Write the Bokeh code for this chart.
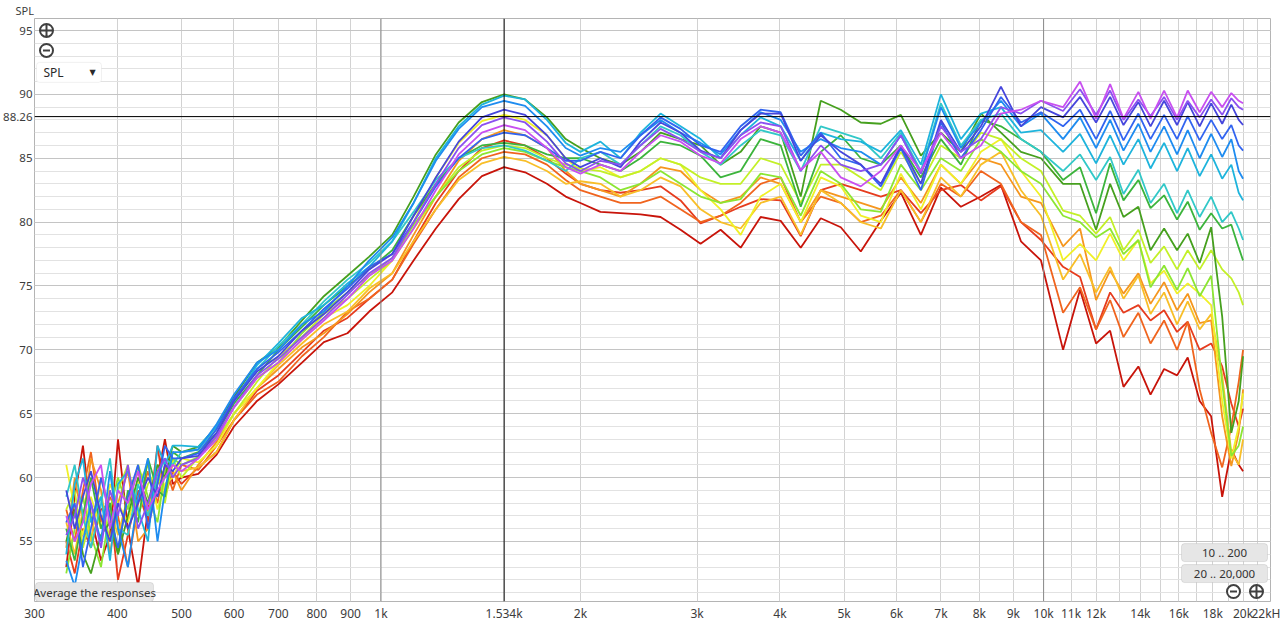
from bokeh.plotting import figure
from bokeh.models import FixedTicker, Span, Label, BoxAnnotation, Range1d
from bokeh.embed import file_html
from bokeh.resources import INLINE

# ---------------- data ----------------
freq_hz = [
    335, 345, 355, 365, 378, 390, 401, 415, 430, 445, 460, 472, 485, 500,
    530, 565, 600, 650, 700, 760, 820, 890, 960,
    1040, 1120, 1210, 1310, 1420, 1534, 1650, 1780, 1900,
    2000, 2144, 2299, 2464, 2642, 2832, 3036, 3255, 3490, 3741, 4011, 4300,
    4610, 4942, 5298, 5680, 6089, 6528, 6998, 7502, 8043, 8622, 9243, 9909,
    10700, 11350, 12000, 12600, 13200, 13900, 14500, 15200, 15900, 16500,
    17200, 17900, 18600, 19200, 19700, 20000,
]

spl_dark_red = [
    53.0, 58.5, 62.5, 57.0, 53.5, 55.5, 63.0, 56.0, 51.5, 57.5, 60.0, 63.0, 59.5, 60.0,
    60.3, 61.8, 64.0, 66.0, 67.3, 69.0, 70.6, 71.3, 73.0,
    74.5, 77.0, 79.5, 81.8, 83.6, 84.3, 83.9, 83.0, 82.0,
    81.5, 80.8, 80.7, 80.6, 80.4, 79.4, 78.3, 79.4, 78.0, 80.4, 80.1, 78.0,
    80.3, 79.6, 77.7, 80.1, 82.3, 79.0, 82.7, 81.2, 82.0, 82.9, 78.5, 77.0,
    70.0, 74.7, 70.5, 71.5, 67.1, 68.7, 66.5, 68.5, 68.0, 69.4, 66.0, 64.8, 58.5, 62.2, 61.0, 60.5,
]
spl_red = [
    55.0, 52.5, 56.0, 54.5, 57.5, 58.0, 52.0, 55.5, 59.0, 56.5, 62.5, 58.5, 60.5, 59.5,
    60.8, 62.0, 64.5, 66.8, 68.0, 69.8, 71.5, 72.5, 74.0,
    75.5, 78.5, 81.5, 84.0, 85.8, 86.4, 86.0, 85.0, 83.8,
    83.0, 82.5, 82.3, 82.5, 82.8, 81.7, 79.9, 80.5, 81.2, 81.8, 81.7, 78.9,
    82.5, 83.0, 82.5, 82.0, 82.5, 80.7, 82.5, 82.9, 81.7, 82.8, 80.0, 78.6,
    76.5, 75.7, 71.6, 74.5, 72.9, 73.5, 72.3, 73.1, 71.4, 72.2, 70.0, 70.5, 68.7, 65.8, 64.0, 65.4,
]
spl_orange_red = [
    57.5, 55.0, 59.0, 62.0, 56.5, 58.5, 57.0, 53.0, 58.0, 60.5, 58.0, 61.0, 59.0, 61.0,
    60.6, 62.5, 64.5, 66.5, 67.5, 69.5, 71.0, 73.0, 74.0,
    75.5, 78.3, 81.0, 83.5, 85.0, 85.5, 85.3, 84.5, 83.3,
    82.5, 82.0, 81.5, 81.5, 82.0, 81.0, 80.0, 80.5, 81.5, 83.0, 83.5, 80.0,
    82.0, 81.5, 80.0, 80.5, 82.5, 80.0, 83.0, 82.0, 84.0, 83.0, 80.0, 79.0,
    72.9, 74.9, 71.6, 73.9, 71.0, 72.9, 70.5, 72.3, 70.0, 72.2, 66.9, 63.5, 60.8, 64.0, 67.5, 70.0,
]
spl_orange = [
    54.5, 60.0, 56.5, 61.5, 59.0, 54.0, 58.0, 60.5, 55.0, 56.0, 59.5, 60.0, 60.5, 59.0,
    61.0, 62.8, 65.0, 67.0, 68.5, 70.2, 71.3, 72.8, 74.5,
    76.0, 79.0, 82.0, 84.8, 86.5, 87.2, 86.8, 85.8, 84.0,
    83.0, 82.5, 82.0, 83.0, 84.3, 84.0, 82.5, 81.5, 82.0, 83.5, 83.0, 80.0,
    82.5, 82.0, 81.5, 81.0, 83.5, 81.5, 84.5, 83.0, 85.0, 84.5, 82.0, 81.5,
    78.1, 79.5, 73.9, 76.2, 74.4, 76.0, 73.6, 75.3, 73.1, 74.4, 72.1, 72.3, 64.8, 60.9, 63.5, 66.9,
]
spl_amber = [
    56.5, 54.0, 57.5, 55.0, 60.0, 57.5, 55.5, 58.5, 60.5, 57.0, 61.0, 59.0, 61.0, 60.5,
    60.8, 62.0, 64.5, 67.0, 68.8, 70.5, 72.0, 73.0, 74.8,
    76.0, 78.5, 81.0, 83.3, 84.6, 85.1, 84.8, 84.0, 83.0,
    83.2, 83.0, 82.0, 82.5, 83.5, 82.8, 81.0, 80.0, 79.5, 81.5, 82.0, 79.0,
    82.5, 81.5, 80.0, 79.5, 82.5, 80.0, 83.5, 82.0, 84.5, 85.5, 82.5, 80.5,
    75.5, 77.5, 74.5, 76.5, 74.0, 75.8, 72.8, 74.5, 72.0, 73.8, 71.6, 72.8, 68.0, 62.0, 61.0, 63.0,
]
spl_yellow = [
    61.0, 57.5, 55.5, 58.5, 56.0, 59.5, 58.0, 56.5, 59.5, 61.0, 57.5, 59.5, 60.0, 61.5,
    61.2, 62.5, 65.0, 67.0, 69.0, 70.8, 72.5, 73.5, 75.0,
    77.0, 80.0, 83.5, 86.2, 87.9, 88.4, 88.0, 86.8, 85.0,
    84.0, 84.3, 83.5, 84.0, 85.0, 84.5, 82.5, 81.0, 79.0, 82.0, 83.0, 80.0,
    83.5, 82.8, 80.5, 80.0, 83.8, 81.0, 84.5, 83.0, 85.5, 86.5, 84.0, 82.0,
    77.0, 78.3, 77.0, 79.1, 77.0, 78.6, 75.2, 76.2, 74.4, 75.2, 74.4, 73.5, 66.0, 61.5, 64.0, 66.6,
]
spl_yellow_green = [
    57.5, 59.0, 54.5, 57.0, 58.5, 55.0, 59.0, 61.0, 57.0, 59.5, 60.5, 58.0, 61.5, 60.0,
    61.6, 63.0, 65.0, 67.5, 69.5, 71.0, 72.8, 74.0, 75.5,
    77.0, 79.5, 82.0, 84.3, 85.6, 86.0, 85.8, 85.0, 84.5,
    84.2, 84.0, 83.5, 84.0, 85.0, 84.5, 83.5, 83.0, 83.0, 85.0, 84.5, 81.5,
    84.5, 84.5, 83.5, 82.5, 85.5, 83.0, 86.0, 85.0, 87.0, 86.5, 85.0, 84.0,
    80.9, 80.5, 79.1, 80.4, 77.8, 79.4, 76.8, 78.1, 76.3, 77.8, 76.3, 77.8, 76.3, 75.6, 74.5, 73.5,
]
spl_light_green = [
    52.5, 56.0, 58.5, 55.5, 53.0, 57.5, 60.0, 57.5, 61.0, 58.5, 56.5, 60.5, 61.5, 61.0,
    61.6, 63.2, 65.5, 67.8, 69.0, 71.3, 73.0, 74.5, 75.8,
    77.2, 79.8, 82.0, 84.0, 85.3, 85.8, 85.5, 84.8, 84.3,
    84.0, 83.5, 82.5, 83.0, 84.0, 83.0, 82.0, 81.5, 81.8, 83.8, 83.5, 80.5,
    84.0, 83.0, 81.0, 80.8, 84.5, 82.5, 85.0, 84.0, 86.5, 85.5, 84.0, 83.0,
    80.5, 80.0, 78.8, 79.5, 77.5, 78.6, 74.9, 76.6, 74.7, 76.4, 74.2, 75.8, 67.4, 61.7, 62.5, 64.0,
]
spl_green = [
    56.0, 53.5, 57.0, 60.0, 56.0, 58.0, 54.0, 59.0, 56.5, 61.5, 59.0, 58.5, 62.0, 61.5,
    62.0, 63.5, 65.8, 68.0, 70.0, 71.8, 73.5, 75.0, 76.3,
    77.8, 80.5, 83.0, 85.0, 86.0, 86.2, 86.0, 85.3, 85.0,
    85.0, 84.5, 84.0, 85.0, 86.3, 86.0, 85.2, 83.5, 84.0, 86.5, 86.0, 81.2,
    85.5, 86.8, 85.0, 84.5, 86.0, 83.5, 86.5, 84.5, 88.0, 87.5, 86.5, 85.5,
    83.3, 84.3, 80.7, 84.6, 81.7, 83.3, 81.1, 82.1, 80.2, 81.6, 79.4, 80.7, 79.5, 79.8, 78.0, 77.0,
]
spl_dark_green = [
    55.0, 57.5, 54.0, 52.5, 55.5, 56.5, 54.0, 57.0, 60.0, 58.0, 61.0, 60.0, 62.5, 62.0,
    62.4, 64.0, 66.3, 69.0, 70.2, 72.3, 74.2, 75.8, 77.3,
    79.0, 82.0, 85.3, 87.8, 89.4, 90.0, 89.6, 88.2, 86.5,
    85.8, 85.0, 84.5, 85.5, 87.0, 86.5, 86.0, 84.5, 85.5, 87.5, 87.0, 82.0,
    89.5, 88.8, 87.8, 87.7, 88.4, 85.2, 87.0, 85.5, 88.5, 87.0, 85.5, 85.0,
    83.0, 83.0, 79.4, 83.0, 80.4, 81.2, 77.8, 79.5, 77.8, 79.1, 76.8, 79.6, 72.6, 63.5, 66.0, 69.5,
]
spl_light_teal = [
    58.5, 61.0, 57.0, 54.5, 58.0, 61.5, 56.0, 55.5, 59.5, 57.0, 60.0, 61.5, 61.0, 62.0,
    62.2, 63.8, 66.0, 68.5, 70.3, 72.0, 73.8, 75.5, 76.8,
    78.5, 80.8, 83.3, 85.0, 85.8, 86.0, 85.6, 84.8, 84.0,
    85.0, 85.5, 84.5, 86.0, 87.5, 86.8, 85.5, 84.5, 86.0, 87.2, 86.8, 84.0,
    87.5, 87.0, 86.5, 85.0, 87.0, 84.0, 89.3, 86.0, 88.0, 88.5, 86.5, 85.5,
    84.0, 85.3, 83.3, 85.1, 82.2, 84.1, 81.5, 83.0, 80.7, 82.5, 80.4, 82.0, 80.0, 80.8, 79.5, 78.6,
]
spl_cyan = [
    54.0, 59.5, 61.5, 56.5, 58.5, 53.5, 59.5, 60.5, 57.5, 55.0, 62.5, 61.0, 62.5, 62.5,
    62.4, 64.0, 66.0, 68.8, 70.5, 72.5, 73.5, 75.2, 76.5,
    78.5, 81.5, 85.0, 87.5, 89.2, 89.9, 89.6, 88.0, 86.2,
    85.5, 86.3, 85.0, 87.0, 88.5, 87.5, 86.5, 85.0, 86.8, 88.2, 87.5, 84.8,
    87.0, 86.5, 86.3, 85.5, 87.2, 84.5, 90.0, 86.5, 88.5, 89.0, 87.0, 87.2,
    85.5, 86.9, 84.6, 86.8, 84.5, 86.5, 84.2, 86.2, 84.0, 85.8, 83.6, 85.3, 83.4, 84.5, 82.3, 81.7,
]
spl_azure = [
    53.5, 51.5, 55.0, 58.0, 55.0, 60.5, 56.0, 53.0, 58.5, 61.5, 55.0, 59.0, 62.0, 62.0,
    62.2, 64.2, 66.5, 69.0, 70.0, 72.0, 73.0, 75.0, 77.0,
    78.8, 81.5, 84.8, 87.3, 89.0, 89.5, 89.1, 87.5, 85.8,
    85.2, 85.8, 85.5, 86.8, 88.0, 87.0, 86.2, 85.3, 87.2, 88.6, 88.0, 85.5,
    86.5, 85.8, 85.5, 84.5, 86.8, 83.8, 89.0, 85.8, 87.8, 89.5, 87.5, 88.5,
    86.5, 88.2, 85.8, 88.0, 85.6, 87.7, 85.5, 87.5, 85.3, 87.2, 85.0, 86.9, 85.1, 86.5, 84.0, 83.4,
]
spl_blue = [
    56.5, 58.0, 53.0, 56.0, 60.0, 57.0, 54.5, 58.5, 61.0, 56.0, 59.5, 62.5, 61.5, 61.5,
    61.9, 63.8, 66.2, 68.5, 69.8, 71.5, 73.2, 74.8, 76.5,
    77.5, 80.0, 82.8, 85.0, 86.5, 87.0, 86.8, 85.8, 84.8,
    84.8, 85.5, 85.0, 86.8, 88.2, 87.3, 86.0, 85.5, 87.5, 88.8, 88.6, 85.2,
    87.0, 85.0, 84.5, 82.8, 85.8, 82.5, 87.8, 85.0, 87.2, 89.8, 87.8, 88.6,
    87.5, 88.8, 86.5, 88.7, 86.4, 88.5, 86.5, 88.4, 86.5, 88.3, 86.4, 88.0, 86.5, 87.6, 86.0, 85.6,
]
spl_indigo = [
    59.0, 56.0, 58.5, 60.5, 57.0, 55.0, 58.0, 56.0, 58.0, 60.0, 58.5, 61.0, 60.5, 61.5,
    61.7, 63.5, 66.0, 68.3, 69.5, 71.5, 72.8, 74.5, 76.3,
    77.5, 80.5, 83.5, 86.3, 88.2, 88.8, 88.4, 86.8, 85.0,
    84.3, 85.0, 84.3, 86.3, 87.8, 87.0, 85.6, 85.0, 87.2, 88.5, 88.5, 84.8,
    86.8, 85.5, 84.5, 83.0, 86.0, 83.0, 88.0, 85.5, 87.5, 90.6, 87.5, 89.0,
    88.2, 89.8, 87.8, 89.8, 87.6, 89.4, 87.5, 89.5, 87.6, 89.4, 87.5, 89.3, 87.7, 89.2, 88.0, 87.6,
]
spl_violet = [
    55.5, 57.0, 60.0, 58.0, 54.5, 59.0, 57.0, 61.0, 56.0, 58.0, 60.5, 61.5, 60.0, 61.0,
    61.5, 63.3, 65.5, 68.0, 69.3, 71.0, 72.5, 74.3, 76.0,
    77.2, 80.0, 83.0, 85.8, 87.6, 88.2, 87.8, 86.3, 84.6,
    84.0, 84.8, 84.5, 86.0, 87.3, 86.5, 85.5, 85.0, 86.8, 87.8, 87.5, 84.0,
    86.0, 84.5, 84.0, 84.5, 86.8, 83.8, 87.5, 85.5, 86.5, 89.0, 88.5, 89.5,
    88.7, 90.4, 88.4, 90.3, 88.0, 89.6, 88.3, 89.8, 88.0, 89.5, 88.2, 89.6, 88.4, 89.7, 89.0, 88.8,
]
spl_magenta = [
    57.0, 55.0, 56.5, 59.5, 61.0, 56.0, 59.0, 58.0, 60.5, 57.5, 59.0, 60.0, 61.0, 60.5,
    61.5, 63.0, 65.5, 67.8, 69.0, 70.8, 72.3, 74.0, 75.8,
    77.0, 79.5, 82.5, 85.3, 87.0, 87.6, 87.2, 85.8, 84.3,
    83.8, 84.5, 84.0, 85.5, 86.8, 86.3, 85.2, 84.6, 86.5, 87.5, 87.0, 84.1,
    85.5, 83.5, 82.8, 84.0, 86.0, 84.0, 87.0, 85.0, 86.0, 88.5, 88.8, 89.5,
    89.0, 91.0, 88.1, 90.8, 88.1, 90.2, 88.1, 90.3, 88.2, 90.3, 88.6, 90.2, 89.0, 90.1, 89.5, 89.3,
]

trace_colors = [
    "#c8140a", "#e63c1e", "#f0641e", "#f5961e", "#f8be28", "#f0f028",
    "#c3f028", "#8ce632", "#3cb43c", "#46a01e", "#32c8c8", "#1eb4dc",
    "#1e8cf0", "#3264f0", "#4646dc", "#8c50f0", "#c850f0",
]
traces = [
    spl_dark_red, spl_red, spl_orange_red, spl_orange, spl_amber, spl_yellow,
    spl_yellow_green, spl_light_green, spl_green, spl_dark_green, spl_light_teal,
    spl_cyan, spl_azure, spl_blue, spl_indigo, spl_violet, spl_magenta,
]

cursor_freq = 1534
cursor_spl = 88.26

x_grid_ticks = [300, 400, 500, 600, 700, 800, 900] + [k * 1000 for k in range(1, 23)]
x_tick_labels = {300: "300", 400: "400", 500: "500", 600: "600", 700: "700", 800: "800",
                 900: "900", 1000: "1k", 2000: "2k", 3000: "3k", 4000: "4k", 5000: "5k",
                 6000: "6k", 7000: "7k", 8000: "8k", 9000: "9k", 10000: "10k",
                 11000: "11k", 12000: "12k", 14000: "14k", 16000: "16k", 18000: "18k",
                 20000: "20k", 22000: "22kH", cursor_freq: "1.534k"}
y_major_ticks = [55, 60, 65, 70, 75, 80, 85, 90, 95]
y_minor_ticks = list(range(50, 97))

# ---------------- layout ----------------
X_MIN, X_MAX = 300, 22000
Y_MIN, Y_MAX = 50.3, 95.94
W, H = 1280, 624
ML, MR, MT, MB = 34, 10, 18, 18
FW = W - ML - MR
FH = 584
FONT = "Noto Sans"


def fx(xabs):
    return X_MIN * (X_MAX / X_MIN) ** ((xabs - ML) / FW)


def fy(yabs):
    return Y_MAX - (yabs - MT) * (Y_MAX - Y_MIN) / FH


p = figure(width=W, height=H, x_axis_type="log",
           x_range=Range1d(X_MIN, X_MAX), y_range=Range1d(Y_MIN, Y_MAX),
           output_backend="svg", toolbar_location=None,
           min_border_left=ML, min_border_right=MR, min_border_top=MT, min_border_bottom=MB)
p.background_fill_color = "white"
p.border_fill_color = "white"
p.outline_line_color = "#b4b4b4"

# title "SPL" at top-left
p.title.text = "SPL"
p.title.align = "left"
p.title.offset = -19
p.title.standoff = 1
p.title.text_font = FONT
p.title.text_font_size = "11px"
p.title.text_font_style = "normal"
p.title.text_color = "#3c3c3c"

# axes
all_x_ticks = sorted(x_grid_ticks + [cursor_freq])
p.xaxis.ticker = FixedTicker(ticks=all_x_ticks)
p.xaxis.major_label_overrides = {t: x_tick_labels.get(t, "") for t in all_x_ticks}
all_y_ticks = sorted(y_major_ticks + [cursor_spl])
p.yaxis.ticker = FixedTicker(ticks=all_y_ticks, minor_ticks=y_minor_ticks)
ylab = {t: str(t) for t in y_major_ticks}
ylab[cursor_spl] = f"{cursor_spl:.2f}"
p.yaxis.major_label_overrides = ylab
for ax in (p.xaxis[0], p.yaxis[0]):
    ax.axis_line_color = None
    ax.major_tick_out = 0
    ax.major_tick_in = 0
    ax.minor_tick_out = 0
    ax.minor_tick_in = 0
    ax.major_label_text_font = FONT
    ax.major_label_text_color = "#3c3c3c"
p.xaxis.major_label_standoff = 3
p.xaxis.major_label_text_font_size = "12px"
p.yaxis.major_label_standoff = 2
p.yaxis.major_label_text_font_size = "11.5px"

# grids
p.xgrid.grid_line_color = "#d2d2d2"
p.ygrid.grid_line_color = "#c4c4c4"
p.ygrid.minor_grid_line_color = "#e2e2e2"

for f in (1000, 10000):
    p.add_layout(Span(location=f, dimension="height", line_color="#8a8a8a", line_width=1))

# traces
for spl, col in zip(traces, trace_colors):
    p.line(freq_hz, spl, line_color=col, line_width=1.8)

# cursor lines
p.add_layout(Span(location=cursor_freq, dimension="height", line_color="black", line_width=1))
p.add_layout(Span(location=cursor_spl, dimension="width", line_color="black", line_width=1))

# zoom icons top-left
p.scatter([fx(46)], [fy(30)], marker="circle_cross", size=13, line_color="#404040",
          line_width=2, fill_color="white")
p.scatter([fx(46)], [fy(50)], marker="circle", size=13, line_color="#404040",
          line_width=2, fill_color="white")
p.scatter([fx(46)], [fy(50)], marker="dash", size=7, line_color="#404040", line_width=2)

# SPL dropdown
p.add_layout(BoxAnnotation(left=fx(36), right=fx(101), top=fy(62), bottom=fy(82),
                           fill_color="white", fill_alpha=1, line_color="#d0d0d0",
                           border_radius=3))
p.add_layout(Label(x=fx(43), y=fy(72), text="SPL", text_baseline="middle",
                   text_font=FONT, text_font_size="12px", text_color="#2a2a2a"))
p.add_layout(Label(x=fx(92), y=fy(72), text="▼", text_align="center",
                   text_baseline="middle", text_font="DejaVu Sans", text_font_size="8px",
                   text_color="#2a2a2a"))


def button(x0, x1, y0, y1, text):
    p.add_layout(BoxAnnotation(left=fx(x0), right=fx(x1), top=fy(y0), bottom=fy(y1),
                               fill_color="#e6e6e6", fill_alpha=1, line_color="#adadad",
                               border_radius=3))
    p.add_layout(Label(x=fx((x0 + x1) / 2), y=fy((y0 + y1) / 2), text=text,
                       text_align="center", text_baseline="middle", text_font=FONT,
                       text_font_size="11.5px", text_color="#333333"))


button(35, 153, 583, 602, "Average the responses")
button(1181, 1267, 544, 562, "10 .. 200")
button(1181, 1267, 565, 583, "20 .. 20,000")

p.scatter([fx(1233)], [fy(592)], marker="circle", size=13, line_color="#404040",
          line_width=2, fill_color="white")
p.scatter([fx(1233)], [fy(592)], marker="dash", size=7, line_color="#404040", line_width=2)
p.scatter([fx(1256)], [fy(592)], marker="circle_cross", size=13, line_color="#404040",
          line_width=2, fill_color="white")

open("out.html", "w").write(file_html(p, INLINE))
